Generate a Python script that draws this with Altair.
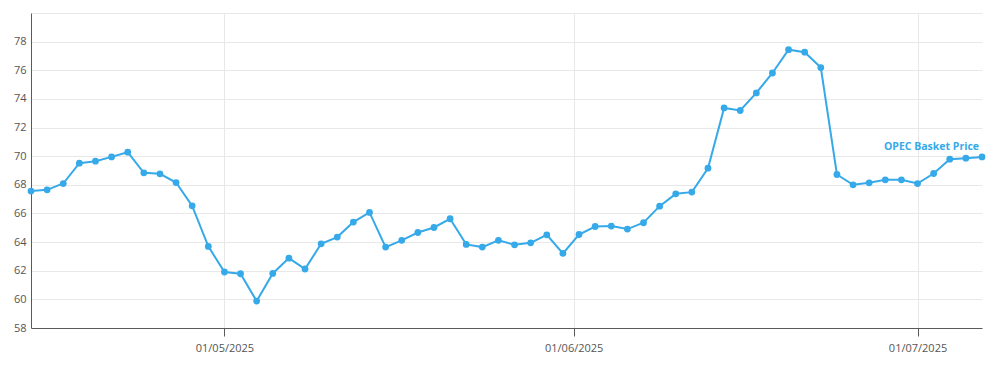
import altair as alt
import pandas as pd

series_name = "OPEC Basket Price"

dates = [
    "2025-04-15", "2025-04-16", "2025-04-17", "2025-04-18", "2025-04-21", "2025-04-22",
    "2025-04-23", "2025-04-24", "2025-04-25", "2025-04-28", "2025-04-29", "2025-04-30",
    "2025-05-01", "2025-05-02", "2025-05-05", "2025-05-06", "2025-05-07", "2025-05-08",
    "2025-05-09", "2025-05-12", "2025-05-13", "2025-05-14", "2025-05-15", "2025-05-16",
    "2025-05-19", "2025-05-20", "2025-05-21", "2025-05-22", "2025-05-23", "2025-05-26",
    "2025-05-27", "2025-05-28", "2025-05-29", "2025-05-30",
    "2025-06-02", "2025-06-03", "2025-06-04", "2025-06-05", "2025-06-06", "2025-06-09",
    "2025-06-10", "2025-06-11", "2025-06-12", "2025-06-13", "2025-06-16", "2025-06-17",
    "2025-06-18", "2025-06-19", "2025-06-20", "2025-06-23", "2025-06-24", "2025-06-25",
    "2025-06-26", "2025-06-27", "2025-06-30",
    "2025-07-01", "2025-07-02", "2025-07-03", "2025-07-04", "2025-07-07",
]

prices = [
    67.56, 67.65, 68.09, 69.51, 69.65, 69.95, 70.28, 68.84, 68.77, 68.16,
    66.53, 63.70, 61.91, 61.79, 59.88, 61.81, 62.88, 62.12, 63.88, 64.35,
    65.40, 66.07, 63.65, 64.12, 64.67, 65.02, 65.63, 63.84, 63.65, 64.12,
    63.81, 63.95, 64.51, 63.21, 64.53, 65.09, 65.12, 64.91, 65.35, 66.51,
    67.37, 67.49, 69.16, 73.37, 73.19, 74.42, 75.81, 77.44, 77.26, 76.19,
    68.72, 68.00, 68.14, 68.35, 68.35, 68.09, 68.79, 69.79, 69.86, 69.95,
]

tick_dates = ["2025-05-01", "2025-06-01", "2025-07-01"]
tick_labels = ["01/05/2025", "01/06/2025", "01/07/2025"]
y_ticks = [58, 60, 62, 64, 66, 68, 70, 72, 74, 76, 78, 80]

COLOR = "#36a9e9"
FONT = "Open Sans"

# Business days are plotted evenly spaced (weekends skipped); month ticks are
# placed between neighbouring trading days in proportion to calendar time.
d = pd.to_datetime(pd.Series(dates))
tick_pos = []
for t in tick_dates:
    t = pd.Timestamp(t)
    i = int(d.searchsorted(t))
    if i < len(d) and d.iloc[i] == t:
        tick_pos.append(float(i))
    else:
        frac = (t - d.iloc[i - 1]) / (d.iloc[i] - d.iloc[i - 1])
        tick_pos.append(i - 1 + float(frac))

label_expr = "''"
for p, lab in reversed(list(zip(tick_pos, tick_labels))):
    label_expr = f"abs(datum.value - {p}) < 0.01 ? '{lab}' : ({label_expr})"

df = pd.DataFrame({"idx": list(range(len(dates))), "date": dates, "price": prices})
df["series"] = series_name
last = df.tail(1)

x = alt.X(
    "idx:Q",
    scale=alt.Scale(domain=[0, len(dates) - 1], nice=False, zero=False),
    axis=alt.Axis(
        values=tick_pos, labelExpr=label_expr, title=None, grid=True,
        gridColor="#e8e8e8", domainColor="#5a5a5a", tickColor="#5a5a5a",
        tickSize=8, labelPadding=6, labelFontSize=11, labelColor="#555555",
        labelFont=FONT,
    ),
)
y = alt.Y(
    "price:Q",
    scale=alt.Scale(domain=[58, 80], nice=False, zero=False),
    axis=alt.Axis(
        values=y_ticks, labelExpr="datum.value == 80 ? '' : datum.label",
        title=None, grid=True, gridColor="#e8e8e8", domainColor="#5a5a5a",
        ticks=False, labelPadding=5, labelFontSize=11, labelColor="#555555",
        labelFont=FONT,
    ),
)

base = alt.Chart(df)
line = base.mark_line(color=COLOR, strokeWidth=2).encode(x=x, y=y)
pts = base.mark_circle(color=COLOR, size=46, opacity=1).encode(x=x, y=y)
label = alt.Chart(last).mark_text(
    color=COLOR, fontWeight="bold", fontSize=10.5, font=FONT,
    align="right", baseline="middle", dx=-3, dy=-10,
).encode(x=x, y=y, text="series:N")

chart = (
    alt.layer(line, pts, label)
    .properties(
        width=951, height=315,
        padding={"left": 31, "top": 13, "right": 18, "bottom": 42},
        autosize=alt.AutoSizeParams(type="none"),
    )
    .configure_view(strokeWidth=0)
)

chart.save("out.html", embed_options={"renderer": "svg", "actions": False})
